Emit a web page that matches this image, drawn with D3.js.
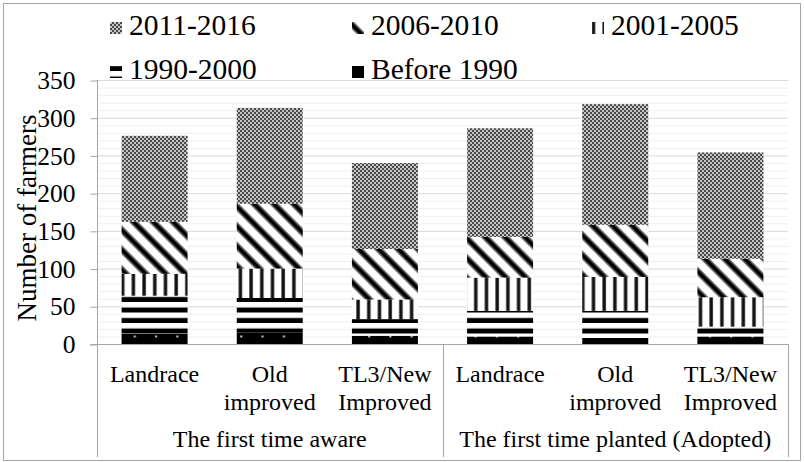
<!DOCTYPE html>
<html>
<head>
<meta charset="utf-8">
<script src="https://cdn.jsdelivr.net/npm/d3@7"></script>
<style>
  html, body { margin: 0; padding: 0; background: #fff; }
</style>
</head>
<body>
<svg id="chart"></svg>
<script>
// groups along the bottom and the varieties within each group
const groups = ["The first time aware", "The first time planted (Adopted)"];
const varieties = ["Landrace", "Old\nimproved", "TL3/New\nImproved"];

// series, stacked from the bottom up (one value per bar, aware x3 then planted x3)
const seriesNames = ["Before 1990", "1990-2000", "2001-2005", "2006-2010", "2011-2016"];
const before1990 = [14, 15, 11, 10, 8, 10];
const y1990_2000 = [50, 46, 22, 34, 36, 13];
const y2001_2005 = [29, 39, 26, 44, 45, 39];
const y2006_2010 = [69, 86, 67, 54, 69, 51];
const y2011_2016 = [114, 127, 114, 144, 160, 141];

const yTicks = [0, 50, 100, 150, 200, 250, 300, 350];
const legendRows = [["2011-2016", "2006-2010", "2001-2005"], ["1990-2000", "Before 1990"]];

const width = 804, height = 462;
const serif = "Liberation Serif";
const svg = d3.select("#chart").attr("width", width).attr("height", height);

// build rows for d3.stack
const seriesValues = [before1990, y1990_2000, y2001_2005, y2006_2010, y2011_2016];
const rows = [];
groups.forEach((g, gi) => {
  varieties.forEach((v, vi) => {
    const i = gi * varieties.length + vi;
    const row = { key: gi + "|" + v, group: g, variety: v };
    seriesNames.forEach((s, si) => { row[s] = seriesValues[si][i]; });
    rows.push(row);
  });
});
const stacked = d3.stack().keys(seriesNames)(rows);

const plotLeft = 97, plotRight = 788, plotTop = 80, plotBottom = 344, axisBottom = 457;

const x = d3.scaleBand()
  .domain(rows.map(d => d.key))
  .range([plotLeft, plotRight])
  .paddingInner(0.427)
  .paddingOuter(0.2135);

const y = d3.scaleLinear().domain([0, 350]).range([plotBottom, plotTop]);

// outer chart border
svg.append("rect")
  .attr("x", 3.5).attr("y", 3.5)
  .attr("width", 797).attr("height", 457)
  .attr("fill", "none").attr("stroke", "#a6a6a6").attr("stroke-width", 1);

// patterns
const defs = svg.append("defs");

// 2011-2016: fine checker
const pChk = defs.append("pattern").attr("id", "p2011")
  .attr("patternUnits", "userSpaceOnUse").attr("width", 4).attr("height", 4);
pChk.append("rect").attr("width", 4).attr("height", 4).attr("fill", "#4a4a4a");
pChk.append("rect").attr("x", 0).attr("y", 0).attr("width", 2).attr("height", 2).attr("fill", "#c4c4c4");
pChk.append("rect").attr("x", 2).attr("y", 2).attr("width", 2).attr("height", 2).attr("fill", "#c4c4c4");

// 2006-2010: wide diagonal stripes
const pDiag = defs.append("pattern").attr("id", "p2006")
  .attr("patternUnits", "userSpaceOnUse").attr("width", 14).attr("height", 14)
  .attr("patternTransform", "rotate(45)");
pDiag.append("rect").attr("width", 14).attr("height", 14).attr("fill", "#fff");
pDiag.append("rect").attr("y", 3).attr("width", 14).attr("height", 7).attr("fill", "#888");
pDiag.append("rect").attr("y", 4.5).attr("width", 14).attr("height", 4).attr("fill", "#000");

// 2001-2005: vertical stripes
const pVert = defs.append("pattern").attr("id", "p2001")
  .attr("patternUnits", "userSpaceOnUse").attr("width", 10.7).attr("height", 10);
pVert.append("rect").attr("width", 10.7).attr("height", 10).attr("fill", "#fff");
pVert.append("rect").attr("x", 3).attr("width", 4).attr("height", 10).attr("fill", "#999");
pVert.append("rect").attr("x", 3.5).attr("width", 3).attr("height", 10).attr("fill", "#111");

// 1990-2000: horizontal stripes
const pHor = defs.append("pattern").attr("id", "p1990")
  .attr("patternUnits", "userSpaceOnUse").attr("width", 10).attr("height", 10.5)
  .attr("y", plotBottom);
pHor.append("rect").attr("width", 10).attr("height", 10.5).attr("fill", "#fff");
pHor.append("rect").attr("y", 5.5).attr("width", 10).attr("height", 5).attr("fill", "#000");

// Before 1990: black with small dots
const pDot = defs.append("pattern").attr("id", "pB1990")
  .attr("patternUnits", "userSpaceOnUse").attr("width", 21.3).attr("height", 21)
  .attr("x", 0).attr("y", 330);
pDot.append("rect").attr("width", 21.3).attr("height", 21).attr("fill", "#000");
pDot.append("rect").attr("x", 6).attr("y", 5.5).attr("width", 2).attr("height", 2).attr("fill", "#ccc");

const fills = {
  "Before 1990": "url(#pB1990)",
  "1990-2000": "url(#p1990)",
  "2001-2005": "url(#p2001)",
  "2006-2010": "url(#p2006)",
  "2011-2016": "url(#p2011)"
};

// gridlines: minor every 10, major every 50
const grid = svg.append("g");
grid.selectAll(".minor")
  .data(d3.range(10, 351, 10).filter(v => v % 50 !== 0))
  .enter().append("line")
  .attr("x1", plotLeft).attr("x2", plotRight)
  .attr("y1", d => y(d) + 0.5).attr("y2", d => y(d) + 0.5)
  .attr("stroke", "#efefef").attr("stroke-width", 1);
grid.selectAll(".major")
  .data(yTicks.filter(v => v > 0))
  .enter().append("line")
  .attr("x1", plotLeft).attr("x2", plotRight)
  .attr("y1", d => y(d) + 0.5).attr("y2", d => y(d) + 0.5)
  .attr("stroke", "#d9d9d9").attr("stroke-width", 1);

// stacked bars
svg.append("g").selectAll("g")
  .data(stacked)
  .enter().append("g")
  .attr("fill", d => fills[d.key])
  .selectAll("rect")
  .data(d => d)
  .enter().append("rect")
  .attr("x", d => x(d.data.key))
  .attr("width", x.bandwidth())
  .attr("y", d => y(d[1]))
  .attr("height", d => y(d[0]) - y(d[1]));

// y axis
const yAxis = svg.append("g")
  .attr("transform", `translate(${plotLeft + 0.5},0)`)
  .call(d3.axisLeft(y).tickValues(yTicks).tickSize(7).tickPadding(15));
yAxis.select(".domain").remove();
yAxis.selectAll(".tick line").attr("stroke", "#a6a6a6").attr("transform", "translate(0,0.5)");
yAxis.selectAll(".tick text")
  .attr("fill", "#000")
  .style("font-size", "25.5px")
  .attr("dy", "0.34em");

// axis lines
svg.append("line")
  .attr("x1", plotLeft + 0.5).attr("x2", plotLeft + 0.5)
  .attr("y1", plotTop).attr("y2", axisBottom)
  .attr("stroke", "#a6a6a6");
svg.append("line")
  .attr("x1", plotLeft - 7).attr("x2", plotRight)
  .attr("y1", plotBottom + 0.5).attr("y2", plotBottom + 0.5)
  .attr("stroke", "#a6a6a6");

// group separators
const groupEdges = [x(rows[varieties.length].key) - x.step() * x.paddingInner() / 2, plotRight];
groupEdges.forEach(gx => {
  svg.append("line")
    .attr("x1", Math.round(gx) + 0.5).attr("x2", Math.round(gx) + 0.5)
    .attr("y1", plotBottom).attr("y2", axisBottom)
    .attr("stroke", "#a6a6a6");
});

// variety labels
const catLabels = svg.append("g").selectAll("text")
  .data(rows)
  .enter().append("text")
  .attr("x", d => x(d.key) + x.bandwidth() / 2)
  .attr("y", 382)
  .attr("text-anchor", "middle")
  .style("font-size", "24px");
catLabels.selectAll("tspan")
  .data(d => d.variety.split("\n"))
  .enter().append("tspan")
  .attr("x", function() { return d3.select(this.parentNode).attr("x"); })
  .attr("dy", (d, i) => i === 0 ? 0 : 28)
  .text(d => d);

// group labels
svg.append("g").selectAll("text")
  .data(groups)
  .enter().append("text")
  .attr("x", (g, gi) => {
    const first = x(rows[gi * varieties.length].key);
    const last = x(rows[gi * varieties.length + varieties.length - 1].key) + x.bandwidth();
    return (first + last) / 2;
  })
  .attr("y", 447)
  .attr("text-anchor", "middle")
  .style("font-size", "24px")
  .text(d => d);

// y title
svg.append("text")
  .attr("transform", `translate(36,${(plotTop + plotBottom) / 2 + 6}) rotate(-90)`)
  .attr("text-anchor", "middle")
  .style("font-size", "27px")
  .text("Number of farmers");

// legend
const legendX = [110, 352, 592];
const legendY = [35, 79];
legendRows.forEach((row, ri) => {
  row.forEach((name, ci) => {
    const g = svg.append("g");
    g.append("rect")
      .attr("x", legendX[ci]).attr("y", legendY[ri] - 13)
      .attr("width", 12).attr("height", 12)
      .attr("fill", fills[name]);
    g.append("text")
      .attr("x", legendX[ci] + 19).attr("y", legendY[ri])
      .style("font-size", "29.5px")
      .text(name);
  });
});

// one serif face for every label
svg.selectAll("text").style("font-family", serif);
</script>
</body>
</html>
